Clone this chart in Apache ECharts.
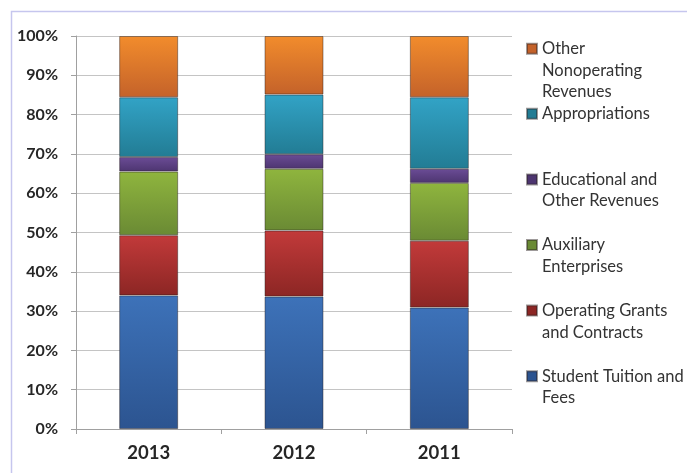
<!DOCTYPE html>
<html>
<head>
<meta charset="utf-8">
<script src="https://cdn.jsdelivr.net/npm/echarts@6/dist/echarts.min.js"></script>
<style>
html,body{margin:0;padding:0;background:#fff;}
#chart{width:687px;height:473px;}
</style>
</head>
<body>
<div id="chart"></div>
<script>
const categories = ['2013', '2012', '2011'];
const studentTuition = [34.0, 33.7, 30.9];
const operatingGrants = [15.3, 16.8, 17.0];
const auxiliary = [16.2, 15.7, 14.7];
const educational = [3.7, 3.7, 3.6];
const appropriations = [15.2, 15.2, 18.2];
const otherNonoperating = [15.6, 14.9, 15.6];
const yTicks = [0, 10, 20, 30, 40, 50, 60, 70, 80, 90, 100];

const seriesDefs = [
  {name: 'Student Tuition and Fees', data: studentTuition, lines: ['Student Tuition and', 'Fees'], c: ['#3d72b9', '#2c5490']},
  {name: 'Operating Grants and Contracts', data: operatingGrants, lines: ['Operating Grants', 'and Contracts'], c: ['#c23a3a', '#8c2624']},
  {name: 'Auxiliary Enterprises', data: auxiliary, lines: ['Auxiliary', 'Enterprises'], c: ['#8fb53e', '#6a8a34']},
  {name: 'Educational and Other Revenues', data: educational, lines: ['Educational and', 'Other Revenues'], c: ['#6b4c96', '#4d3570']},
  {name: 'Appropriations', data: appropriations, lines: ['Appropriations'], c: ['#32a3c6', '#227c94']},
  {name: 'Other Nonoperating Revenues', data: otherNonoperating, lines: ['Other', 'Nonoperating', 'Revenues'], c: ['#f28c2c', '#c4622a']}
];
const legendIconCenters = [376.2, 310.6, 245.0, 179.4, 113.8, 48.7];
const LH = 21.7;
const FONT = 'Lato';

const series = seriesDefs.map(s => ({
  name: s.name,
  type: 'bar',
  stack: 'total',
  barWidth: 59,
  data: s.data,
  itemStyle: {
    color: new echarts.graphic.LinearGradient(0, 0, 0, 1, [
      {offset: 0, color: s.c[0]},
      {offset: 1, color: s.c[1]}
    ]),
    borderColor: 'rgba(40,30,30,0.45)',
    borderWidth: 1
  },
  emphasis: {disabled: true}
}));

const legends = seriesDefs.map((s, i) => {
  const n = s.lines.length;
  const L = 2 * n - 1;
  const text = '\n'.repeat(n - 1) + s.lines.join('\n');
  return {
    data: [{name: s.name, itemStyle: {color: s.c[1]}}],
    orient: 'vertical',
    left: 526,
    top: legendIconCenters[i] - L * LH / 2,
    padding: 0,
    itemWidth: 10,
    itemHeight: 10,
    itemGap: 0,
    icon: 'rect',
    formatter: () => text,
    textStyle: {fontFamily: FONT, fontSize: 16.5, color: '#333333', lineHeight: LH}
  };
});

const chart = echarts.init(document.getElementById('chart'), null, {renderer: 'canvas'});
chart.setOption({
  animation: false,
  backgroundColor: '#ffffff',
  grid: {left: 76, top: 36, right: 175, bottom: 44, containLabel: false},
  legend: legends,
  graphic: [{
    type: 'rect',
    shape: {x: 11.5, y: 11.5, width: 700, height: 500},
    style: {fill: 'none', stroke: '#c6c6ee', lineWidth: 1.5},
    silent: true
  }],
  xAxis: {
    type: 'category',
    data: categories,
    axisLine: {lineStyle: {color: '#a0a0a0', width: 1}},
    axisTick: {show: true, length: 5, lineStyle: {color: '#a0a0a0'}},
    axisLabel: {fontFamily: FONT, fontWeight: 'bold', fontSize: 18.5, color: '#262626', margin: 15}
  },
  yAxis: {
    type: 'value',
    min: yTicks[0],
    max: yTicks[yTicks.length - 1],
    interval: 10,
    axisLine: {show: true, lineStyle: {color: '#a0a0a0', width: 1}},
    axisTick: {show: true, length: 5, lineStyle: {color: '#a0a0a0'}},
    splitLine: {lineStyle: {color: '#c4c4c4', width: 1}},
    axisLabel: {fontFamily: FONT, fontWeight: 'bold', fontSize: 16, color: '#262626', margin: 18, formatter: '{value}%'}
  },
  series: series
});
</script>
</body>
</html>
